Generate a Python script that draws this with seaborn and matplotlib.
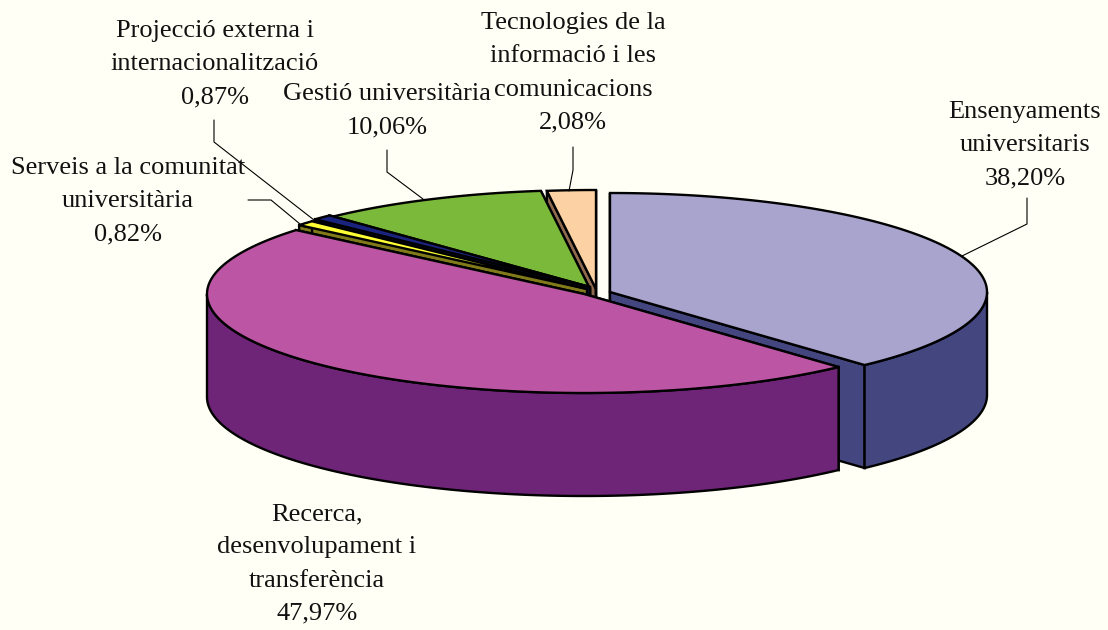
"""Pastis 3D del pressupost per àmbits"""
import numpy as np
import matplotlib
matplotlib.use("Agg")
import matplotlib.pyplot as plt
import seaborn as sns

labels = [
    "Ensenyaments\nuniversitaris",
    "Recerca,\ndesenvolupament i\ntransferència",
    "Serveis a la comunitat\nuniversitària",
    "Projecció externa i\ninternacionalització",
    "Gestió universitària",
    "Tecnologies de la\ninformació i les\ncomunicacions",
]
values = [38.20, 47.97, 0.82, 0.87, 10.06, 2.08]

top_colors = ["#A9A4CE", "#BC56A4", "#FFFF33", "#1A237E", "#7AB93A", "#FCD2A4"]
wall_colors = ["#444680", "#6E2578", "#807A1A", "#10164A", "#0A0F05", "#8F6A50"]

# geometria de la el·lipse, en píxels
RX, RY, DEPTH = 377, 99, 103
apex = [(610, 292), (584, 294), (587, 289), (590, 287), (590, 289), (596, 289)]
# ordre de pintat: del fons cap al davant
draw_order = [5, 4, 3, 2, 0, 1]

label_pos = [(1025, 145), (317, 564), (128, 201), (215, 64), (387, 111), (573, 73)]
leaders = [
    [(962, 256), (1027, 224), (1027, 198)],
    [(300, 224), (271, 200), (248, 200)],
    [(314, 220), (214, 142), (214, 120)],
    [(423, 199), (387, 172), (387, 150)],
    [(569, 191), (573, 170), (573, 147)],
]

sns.set_theme(style="white")
plt.rcParams["font.family"] = ["Liberation Serif", "DejaVu Serif"]
BG = "#FFFFF5"

fig = plt.figure(figsize=(11.08, 6.30), dpi=100, facecolor=BG)
ax = fig.add_axes([0, 0, 1, 1])
ax.set_xlim(0, 1108)
ax.set_ylim(630, 0)
ax.axis("off")

edges = np.cumsum([0] + values) / sum(values) * 2 * np.pi


def ellipse(i, t):
    cx, cy = apex[i]
    return cx + RX * np.sin(t), cy - RY * np.cos(t)


style = dict(edgecolor="black", linewidth=1.7, joinstyle="miter")

for i in draw_order:
    cx, cy = apex[i]
    x, y = ellipse(i, np.linspace(edges[i], edges[i + 1], 200))
    # parets radials
    for px, py in [(x[0], y[0]), (x[-1], y[-1])]:
        ax.fill([cx, px, px, cx], [cy, py, py + DEPTH, cy + DEPTH],
                facecolor=wall_colors[i], **style)
    # paret exterior, només la meitat que mira cap endavant
    lo, hi = max(edges[i], np.pi / 2), min(edges[i + 1], 3 * np.pi / 2)
    if lo < hi:
        wx, wy = ellipse(i, np.linspace(lo, hi, 200))
        ax.fill(np.r_[wx, wx[::-1]], np.r_[wy, wy[::-1] + DEPTH],
                facecolor=wall_colors[i], **style)
    # cara superior
    ax.fill(np.r_[cx, x], np.r_[cy, y], facecolor=top_colors[i], **style)

for pts in leaders:
    xs, ys = zip(*pts)
    ax.plot(xs, ys, color="black", linewidth=0.8)

for name, v, (lx, ly) in zip(labels, values, label_pos):
    pct = f"{v:.2f}".replace(".", ",") + "%"
    ax.text(lx, ly, f"{name}\n{pct}", ha="center", va="center",
            fontsize=19, color="#111111", linespacing=1.65)

fig.savefig("out.png", dpi=100, facecolor=BG)
